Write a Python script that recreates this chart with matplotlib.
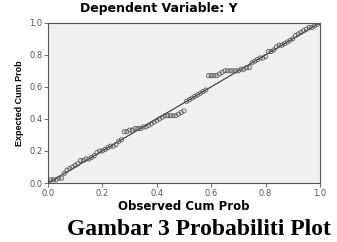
import matplotlib.pyplot as plt

# observed vs expected cumulative probability
obs = [0.00, 0.01, 0.02, 0.03, 0.04, 0.05, 0.06, 0.07, 0.08, 0.09,
       0.10, 0.11, 0.12, 0.13, 0.14, 0.15, 0.16, 0.17, 0.18, 0.19,
       0.20, 0.21, 0.22, 0.23, 0.24, 0.25, 0.26, 0.27, 0.28, 0.29,
       0.30, 0.31, 0.32, 0.33, 0.34, 0.35, 0.36, 0.37, 0.38, 0.39,
       0.40, 0.41, 0.42, 0.43, 0.44, 0.45, 0.46, 0.47, 0.48, 0.49,
       0.50, 0.51, 0.52, 0.53, 0.54, 0.55, 0.56, 0.57, 0.58, 0.59,
       0.60, 0.61, 0.62, 0.63, 0.64, 0.65, 0.66, 0.67, 0.68, 0.69,
       0.70, 0.71, 0.72, 0.73, 0.74, 0.75, 0.76, 0.77, 0.78, 0.79,
       0.80, 0.81, 0.82, 0.83, 0.84, 0.85, 0.86, 0.87, 0.88, 0.89,
       0.90, 0.91, 0.92, 0.93, 0.94, 0.95, 0.96, 0.97, 0.98, 0.99, 1.00]
exp = [0.01, 0.02, 0.02, 0.02, 0.03, 0.03, 0.06, 0.08, 0.09, 0.10,
       0.11, 0.12, 0.14, 0.14, 0.15, 0.15, 0.16, 0.17, 0.19, 0.20,
       0.20, 0.21, 0.22, 0.23, 0.23, 0.24, 0.26, 0.27, 0.32, 0.32,
       0.33, 0.33, 0.34, 0.34, 0.34, 0.35, 0.35, 0.36, 0.37, 0.38,
       0.39, 0.40, 0.41, 0.42, 0.42, 0.42, 0.42, 0.42, 0.43, 0.44,
       0.45, 0.51, 0.52, 0.53, 0.54, 0.55, 0.56, 0.57, 0.58, 0.67,
       0.67, 0.67, 0.67, 0.68, 0.69, 0.70, 0.70, 0.70, 0.70, 0.70,
       0.70, 0.71, 0.71, 0.72, 0.72, 0.75, 0.76, 0.77, 0.78, 0.78,
       0.79, 0.82, 0.82, 0.83, 0.85, 0.86, 0.86, 0.87, 0.88, 0.89,
       0.90, 0.92, 0.93, 0.94, 0.95, 0.96, 0.97, 0.97, 0.98, 0.99, 1.00]
ticks = [0.0, 0.2, 0.4, 0.6, 0.8, 1.0]

fig = plt.figure(figsize=(3.37, 2.42), dpi=100)
ax = fig.add_axes([0.1424, 0.2438, 0.8072, 0.6622])
ax.set_facecolor('#f0f0f0')

ax.plot([0, 1], [0, 1], color='#333333', lw=0.8, zorder=2)
ax.scatter(obs, exp, s=9, facecolors='none', edgecolors='#555555', linewidths=0.6, zorder=3)

ax.set_xlim(0, 1)
ax.set_ylim(0, 1)
ax.set_xticks(ticks)
ax.set_yticks(ticks)
ax.set_xticklabels(['%.1f' % t for t in ticks])
ax.set_yticklabels(['%.1f' % t for t in ticks])
ax.tick_params(labelsize=6, length=3, width=0.6, pad=1, colors='#555555')
for s in ax.spines.values():
    s.set_color('#555555')
    s.set_linewidth(0.8)

ax.set_xlabel('Observed Cum Prob', fontsize=8.5, fontweight='bold', labelpad=1.5)
ax.set_ylabel('Expected Cum Prob', fontsize=6.5, fontweight='bold', labelpad=4,
              family=['Liberation Sans Narrow', 'Liberation Sans'])
fig.text(0.47, 0.965, 'Dependent Variable: Y', fontsize=9, fontweight='bold',
         ha='center', va='center')
fig.text(0.59, 0.05, 'Gambar 3 Probabiliti Plot', fontsize=17, fontweight='bold',
         family='Liberation Serif', ha='center', va='center')

fig.savefig('out.png', dpi=100)
